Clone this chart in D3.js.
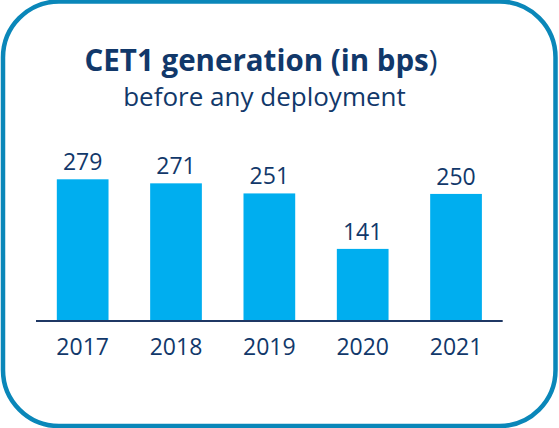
<!DOCTYPE html>
<html><head><meta charset="utf-8">
<script src="https://cdn.jsdelivr.net/npm/d3@7"></script>
<style>html,body{margin:0;padding:0;background:#fff;}svg{display:block;}</style>
</head><body>
<svg id="chart" width="559" height="428"></svg>
<script>
const years = ["2017", "2018", "2019", "2020", "2021"];
const values = [279, 271, 251, 141, 250];
const titleBold = "CET1 generation (in bps";
const titleEnd = ")";
const subtitle = "before any deployment";

const svg = d3.select("#chart");
const navy = "#11386a";
const font = "'Open Sans', sans-serif";

svg.append("rect")
  .attr("x", 3).attr("y", 1.5).attr("width", 552.5).attr("height", 424.5)
  .attr("rx", 56).attr("ry", 56)
  .attr("fill", "#fff").attr("stroke", "#0a87b9").attr("stroke-width", 4.5);

const x = d3.scaleBand().domain(years).range([36, 502.7])
  .paddingInner(0.446).paddingOuter(0.223);
const y = d3.scaleLinear().domain([0, 300]).range([320, 320 - 300 * 0.5043]);

const t = svg.append("text").attr("x", 261).attr("y", 71).attr("text-anchor", "middle")
  .attr("font-family", font).attr("font-size", 29.5).attr("fill", navy);
t.append("tspan").attr("font-weight", "bold").text(titleBold);
t.append("tspan").attr("font-weight", "normal").text(titleEnd);

svg.append("text").attr("x", 264.5).attr("y", 106).attr("text-anchor", "middle")
  .attr("font-family", font).attr("font-size", 26).attr("fill", navy).text(subtitle);

svg.selectAll("rect.bar").data(values).join("rect").attr("class", "bar")
  .attr("x", (d, i) => x(years[i])).attr("width", x.bandwidth())
  .attr("y", d => y(d)).attr("height", d => y(0) - y(d))
  .attr("fill", "#00aeef");

svg.selectAll("text.val").data(values).join("text").attr("class", "val")
  .attr("x", (d, i) => x(years[i]) + x.bandwidth() / 2)
  .attr("y", d => y(d) - 9)
  .attr("text-anchor", "middle").attr("font-family", font).attr("font-size", 23)
  .attr("fill", navy).text(d => d);

const axis = d3.axisBottom(x).tickSize(0).tickPadding(0);
const g = svg.append("g").attr("transform", "translate(0,321)").call(axis);
g.select(".domain").attr("stroke", "#1f3864").attr("stroke-width", 2).attr("d", "M36,0H502.7");
g.selectAll(".tick text").attr("font-family", font).attr("font-size", 23).attr("fill", navy)
  .attr("dy", null).attr("y", 34);
</script>
</body></html>
